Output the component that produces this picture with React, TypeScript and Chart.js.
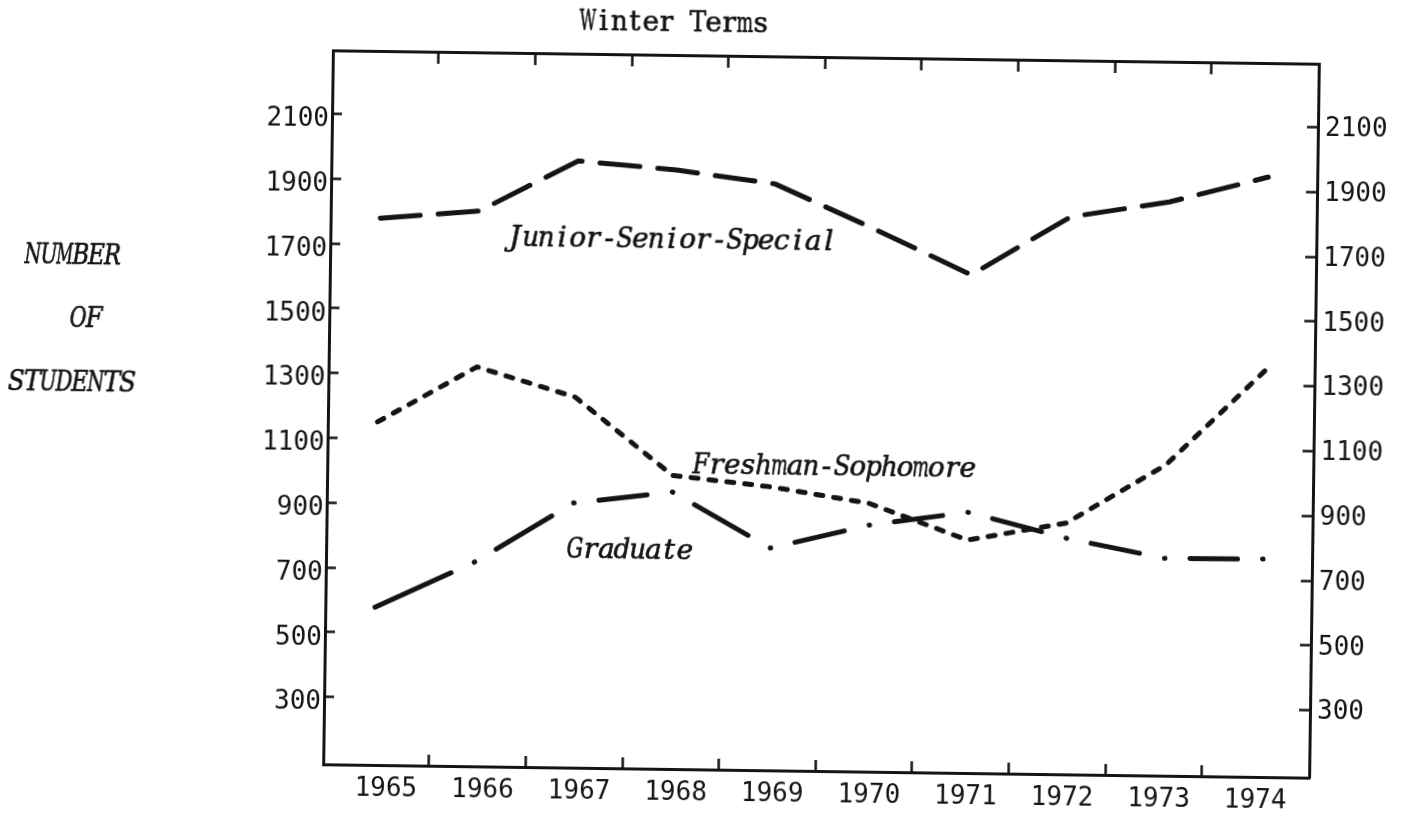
import { useEffect, useRef } from 'react';
import { Chart, registerables } from 'chart.js';

Chart.register(...registerables);

// ---------------- data ----------------
const years = ['1965', '1966', '1967', '1968', '1969', '1970', '1971', '1972', '1973', '1974'];
const juniorSeniorSpecial = [1780, 1806, 1965, 1941, 1902, 1769, 1630, 1813, 1863, 1944];
const freshmanSophomore = [1151, 1325, 1236, 998, 967, 920, 811, 868, 1051, 1348];
const graduate = [579, 722, 909, 947, 778, 853, 897, 821, 763, 765];
const countTicks = [300, 500, 700, 900, 1100, 1300, 1500, 1700, 1900, 2100];
const seriesNames = ['Junior-Senior-Special', 'Freshman-Sophomore', 'Graduate'];
const chartTitle = 'Winter Terms';
const axisTitleLines = ['NUMBER', 'OF', 'STUDENTS'];

// ---------------- layout / style ----------------
const CANVAS_W = 1403;
const CANVAS_H = 818;
const TILT = 0.78; // the scanned page is slightly rotated
const TILT_ORIGIN = '821px 414px';
const INK = '#141414';

const AREA = { left: 328, right: 1314, top: 57, bottom: 771 };
const DATA_X_MIN = -0.504;
const DATA_X_MAX = 9.497;
const YEAR_AXIS_MIN = -0.652;
const YEAR_AXIS_MAX = 9.555;
const TICK_SHIFT = 0.445;
const YEAR_LABEL_OFFSET = -43;
const Y_MIN = 92;
const Y_MAX = 2296;

const numberFont = { family: '"DejaVu Sans Mono", monospace', size: 26 };
const typeFace = '"DejaVu Serif", "Liberation Serif", serif';
const TYPE_SIZE = 28;
const TYPE_PITCH = 15.7;

const titlePos = { x: 669, y: 33 };
const axisTitlePos = [
  { x: 23, y: 274 },
  { x: 69, y: 337 },
  { x: 8, y: 401 },
];
const seriesLabelAnchors = [
  { x: 1.288, y: 1699 },
  { x: 3.206, y: 1006 },
  { x: 1.94, y: 739 },
];

const DOT_CLEAR = 25.5;

const toPoints = (vals: number[]) => vals.map((v, i) => ({ x: i, y: v }));

const graduateDash = (ctx: any) => {
  const L = Math.hypot(ctx.p1.x - ctx.p0.x, ctx.p1.y - ctx.p0.y);
  const last = graduate.length - 1;
  if (ctx.p0DataIndex === 0) return [Math.max(L - DOT_CLEAR, 1), 100000];
  if (ctx.p1DataIndex === last)
    return [0.5, DOT_CLEAR - 0.5, Math.max(L - 2 * DOT_CLEAR, 1), DOT_CLEAR - 0.5, 0.5, 100000];
  return [0.5, DOT_CLEAR - 0.5, Math.max(L - 2 * DOT_CLEAR, 1), 100000];
};

// typewriter-style text: each character centred in a fixed-pitch cell
const typeText = (
  ctx: CanvasRenderingContext2D,
  text: string,
  x: number,
  y: number,
  italic: boolean,
  align: 'left' | 'center',
  pitch: number
) => {
  ctx.save();
  ctx.font = `${italic ? 'italic ' : ''}${TYPE_SIZE}px ${typeFace}`;
  ctx.fillStyle = INK;
  ctx.strokeStyle = INK;
  ctx.lineWidth = 0.7;
  ctx.textAlign = 'center';
  ctx.textBaseline = 'alphabetic';
  const total = text.length * pitch;
  const start = align === 'center' ? x - total / 2 : x;
  for (let i = 0; i < text.length; i++) {
    const ch = text[i];
    if (ch === ' ') continue;
    const w = ctx.measureText(ch).width || 1;
    const sx = Math.min(1, (pitch * 1.06) / w);
    ctx.save();
    ctx.translate(start + (i + 0.5) * pitch, y);
    ctx.scale(sx, 1);
    ctx.fillText(ch, 0, 0);
    ctx.strokeText(ch, 0, 0);
    ctx.restore();
  }
  ctx.restore();
};

const typedTextPlugin = {
  id: 'typedText',
  afterDraw(chart: any) {
    const { ctx } = chart;
    const xs = chart.scales.x;
    const ys = chart.scales.y;
    typeText(ctx, chartTitle, titlePos.x, titlePos.y, false, 'center', TYPE_PITCH);
    axisTitleLines.forEach((t, i) =>
      typeText(ctx, t, axisTitlePos[i].x, axisTitlePos[i].y, true, 'left', 15.9)
    );
    seriesNames.forEach((t, i) =>
      typeText(
        ctx,
        t,
        xs.getPixelForValue(seriesLabelAnchors[i].x),
        ys.getPixelForValue(seriesLabelAnchors[i].y),
        true,
        'left',
        TYPE_PITCH
      )
    );
  },
};

const yearTickColor = (c: any) => (c.index < years.length - 1 ? INK : 'rgba(0,0,0,0)');

export default function App() {
  const ref = useRef<HTMLCanvasElement>(null);

  useEffect(() => {
    const canvas = ref.current;
    if (!canvas) return;

    const yearTicks = (axis: any) => {
      axis.ticks = years.map((_, i) => ({ value: i + TICK_SHIFT }));
    };
    const countTickBuilder = (axis: any) => {
      axis.ticks = countTicks.map((v) => ({ value: v }));
    };

    const chart = new Chart(canvas, {
      type: 'line',
      data: {
        datasets: [
          {
            label: seriesNames[0],
            data: toPoints(juniorSeniorSpecial),
            borderColor: INK,
            borderWidth: 5,
            borderDash: [40, 18],
            borderCapStyle: 'round',
            borderJoinStyle: 'round',
            pointRadius: 0,
            fill: false,
            tension: 0,
          },
          {
            label: seriesNames[1],
            data: toPoints(freshmanSophomore),
            borderColor: INK,
            borderWidth: 5,
            borderDash: [7, 11],
            borderCapStyle: 'round',
            borderJoinStyle: 'round',
            pointRadius: 0,
            fill: false,
            tension: 0,
          },
          {
            label: seriesNames[2],
            data: toPoints(graduate),
            borderColor: INK,
            borderWidth: 5,
            borderCapStyle: 'round',
            borderJoinStyle: 'round',
            pointRadius: 0,
            fill: false,
            tension: 0,
            segment: {
              borderDash: graduateDash,
              borderCapStyle: 'round',
            },
          } as any,
        ],
      },
      options: {
        responsive: false,
        animation: false,
        devicePixelRatio: 1,
        events: [],
        layout: { padding: 0 },
        plugins: {
          legend: { display: false },
          tooltip: { enabled: false },
          title: { display: false },
        },
        scales: {
          x: {
            type: 'linear',
            display: false,
            bounds: 'data',
            min: DATA_X_MIN,
            max: DATA_X_MAX,
          },
          years: {
            type: 'linear',
            position: 'bottom',
            bounds: 'data',
            min: YEAR_AXIS_MIN,
            max: YEAR_AXIS_MAX,
            afterBuildTicks: yearTicks,
            afterFit: (axis: any) => {
              axis.height = CANVAS_H - AREA.bottom;
            },
            ticks: {
              autoSkip: false,
              maxRotation: 0,
              minRotation: 0,
              labelOffset: YEAR_LABEL_OFFSET,
              padding: 20,
              color: INK,
              font: numberFont,
              callback: (_v: any, i: number) => years[i],
            },
            grid: {
              display: true,
              drawOnChartArea: false,
              drawTicks: true,
              tickLength: -11,
              tickWidth: 2.5,
              tickColor: yearTickColor,
            },
            border: { display: true, color: INK, width: 3 },
          },
          yearsTop: {
            type: 'linear',
            position: 'top',
            bounds: 'data',
            min: YEAR_AXIS_MIN,
            max: YEAR_AXIS_MAX,
            afterBuildTicks: yearTicks,
            afterFit: (axis: any) => {
              axis.height = AREA.top;
            },
            ticks: { display: false, autoSkip: false },
            grid: {
              display: true,
              drawOnChartArea: false,
              drawTicks: true,
              tickLength: -12,
              tickWidth: 2.5,
              tickColor: yearTickColor,
            },
            border: { display: true, color: INK, width: 3 },
          },
          y: {
            type: 'linear',
            position: 'left',
            bounds: 'data',
            min: Y_MIN,
            max: Y_MAX,
            afterBuildTicks: countTickBuilder,
            afterFit: (axis: any) => {
              axis.width = AREA.left;
            },
            ticks: {
              autoSkip: false,
              padding: 13,
              labelOffset: 6,
              color: INK,
              font: numberFont,
              callback: (v: any) => String(v),
            },
            grid: {
              display: true,
              drawOnChartArea: false,
              drawTicks: true,
              tickLength: -10,
              tickWidth: 2.5,
              tickColor: INK,
            },
            border: { display: true, color: INK, width: 3 },
          },
          y2: {
            type: 'linear',
            position: 'right',
            bounds: 'data',
            min: Y_MIN,
            max: Y_MAX,
            afterBuildTicks: countTickBuilder,
            afterFit: (axis: any) => {
              axis.width = CANVAS_W - AREA.right;
            },
            ticks: {
              autoSkip: false,
              padding: 18,
              labelOffset: 2,
              color: INK,
              font: numberFont,
              callback: (v: any) => String(v),
            },
            grid: {
              display: true,
              drawOnChartArea: false,
              drawTicks: true,
              tickLength: -11,
              tickWidth: 2.5,
              tickColor: INK,
            },
            border: { display: true, color: INK, width: 3 },
          },
        },
      } as any,
      plugins: [typedTextPlugin],
    });

    return () => chart.destroy();
  }, []);

  return (
    <div
      style={{
        position: 'absolute',
        left: 0,
        top: 0,
        width: CANVAS_W,
        height: CANVAS_H,
        overflow: 'hidden',
        background: '#fff',
      }}
    >
      <canvas
        ref={ref}
        width={CANVAS_W}
        height={CANVAS_H}
        style={{
          display: 'block',
          width: CANVAS_W,
          height: CANVAS_H,
          transform: `rotate(${TILT}deg)`,
          transformOrigin: TILT_ORIGIN,
        }}
      />
    </div>
  );
}
